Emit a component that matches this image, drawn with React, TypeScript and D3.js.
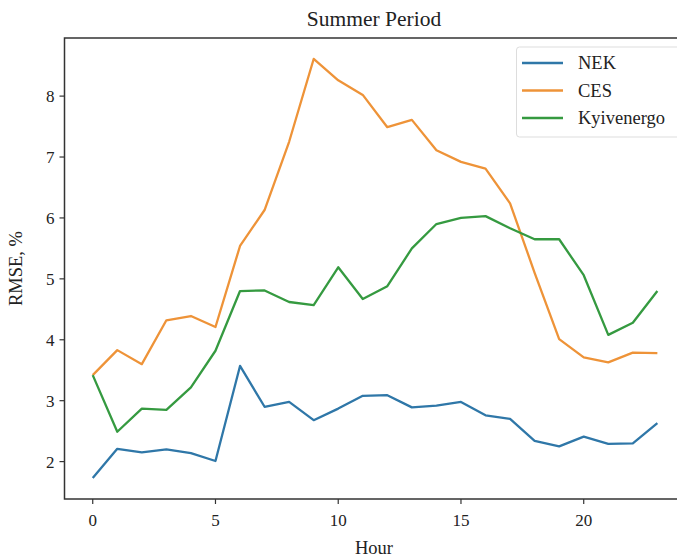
import React from "react";
import * as d3 from "d3";

const hours = d3.range(0, 24);
const nek = [1.73, 2.21, 2.15, 2.2, 2.14, 2.01, 3.57, 2.9, 2.98, 2.68, 2.87, 3.08, 3.09, 2.89, 2.92, 2.98, 2.76, 2.7, 2.34, 2.25, 2.41, 2.29, 2.3, 2.63];
const ces = [3.42, 3.83, 3.6, 4.32, 4.39, 4.21, 5.54, 6.13, 7.25, 8.61, 8.26, 8.02, 7.49, 7.61, 7.11, 6.92, 6.81, 6.24, 5.1, 4.01, 3.71, 3.63, 3.79, 3.78];
const kyiv = [3.42, 2.49, 2.87, 2.85, 3.22, 3.82, 4.8, 4.81, 4.62, 4.57, 5.19, 4.67, 4.88, 5.5, 5.9, 6.0, 6.03, 5.83, 5.65, 5.65, 5.06, 4.08, 4.28, 4.8];
const seriesNames = ["NEK", "CES", "Kyivenergo"];
const seriesColors = ["#2f77a8", "#ee9338", "#359a40"];
const xTicks = [0, 5, 10, 15, 20];
const yTicks = [2, 3, 4, 5, 6, 7, 8];

export default function App() {
  const W = 677, H = 558;
  const left = 64.5, right = 685.6, top = 38, bottom = 499;
  const all = [...nek, ...ces, ...kyiv];
  const ymin = d3.min(all)!, ymax = d3.max(all)!;
  const ypad = (ymax - ymin) * 0.05;
  const x = d3.scaleLinear().domain([-23 * 0.05, 23 * 1.05]).range([left, right]);
  const y = d3.scaleLinear().domain([ymin - ypad, ymax + ypad]).range([bottom, top]);
  const line = d3.line<number>().x((_, i) => x(hours[i])).y((d) => y(d));
  const data = [nek, ces, kyiv];
  const font = "'Liberation Serif', 'Times New Roman', serif";
  const axisColor = "#333";
  return (
    <svg width={W} height={H} style={{ position: "absolute", left: 0, top: 0, background: "#fff" }} fontFamily={font}>
      <rect x={0} y={0} width={W} height={H} fill="#fff" />
      {data.map((d, i) => (
        <path key={i} d={line(d)!} fill="none" stroke={seriesColors[i]} strokeWidth={2.3} strokeLinejoin="round" />
      ))}
      <rect x={left} y={top} width={right - left} height={bottom - top} fill="none" stroke={axisColor} strokeWidth={1.5} />
      {xTicks.map((t) => (
        <g key={t} transform={`translate(${x(t)},${bottom})`}>
          <line y1={0} y2={5} stroke={axisColor} strokeWidth={1.2} />
          <text y={27} textAnchor="middle" fontSize={17} fill="#222">{t}</text>
        </g>
      ))}
      {yTicks.map((t) => (
        <g key={t} transform={`translate(${left},${y(t)})`}>
          <line x1={0} x2={-5} stroke={axisColor} strokeWidth={1.2} />
          <text x={-10} dy="0.35em" textAnchor="end" fontSize={17} fill="#222">{t}</text>
        </g>
      ))}
      <text x={374} y={26} textAnchor="middle" fontSize={21.5} fill="#222">Summer Period</text>
      <text x={374} y={554} textAnchor="middle" fontSize={18.5} fill="#222">Hour</text>
      <text transform={`translate(22,${(top + bottom) / 2}) rotate(-90)`} textAnchor="middle" fontSize={18.5} fill="#222">RMSE, %</text>
      <g>
        <rect x={516.5} y={47} width={166} height={90} rx={3} fill="#fff" stroke="#ddd" strokeWidth={1} />
        {seriesNames.map((n, i) => (
          <g key={n} transform={`translate(0,${63 + i * 27.5})`}>
            <line x1={522} x2={563} stroke={seriesColors[i]} strokeWidth={2.3} />
            <text x={578} dy="0.35em" fontSize={18.5} fill="#222">{n}</text>
          </g>
        ))}
      </g>
    </svg>
  );
}
